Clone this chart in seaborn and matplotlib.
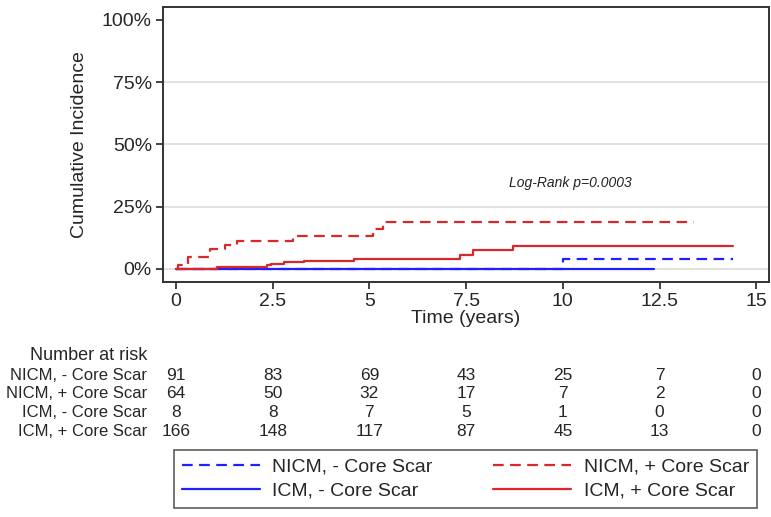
import pandas as pd
import matplotlib.pyplot as plt
import matplotlib.transforms as mtransforms
import seaborn as sns

# Cumulative incidence step curves (years, %)
nicm_neg_t = [0, 10.0, 14.4]
nicm_neg_ci = [0, 3.9, 3.9]
nicm_pos_t = [0, 0.05, 0.3, 0.88, 1.27, 1.58, 3.03, 5.1, 5.35, 13.4]
nicm_pos_ci = [0, 1.6, 4.7, 7.9, 9.6, 11.4, 13.3, 16.0, 19.0, 19.0]
icm_neg_t = [0, 12.35]
icm_neg_ci = [0, 0]
icm_pos_t = [0, 1.05, 2.35, 2.45, 2.8, 3.3, 4.6, 7.35, 7.68, 8.7, 14.4]
icm_pos_ci = [0, 0.8, 1.7, 2.1, 2.7, 3.2, 4.1, 5.5, 7.7, 9.3, 9.3]

groups = ['NICM, - Core Scar', 'NICM, + Core Scar', 'ICM, - Core Scar', 'ICM, + Core Scar']
risk_times = [0, 2.5, 5, 7.5, 10, 12.5, 15]
risk_nicm_neg = [91, 83, 69, 43, 25, 7, 0]
risk_nicm_pos = [64, 50, 32, 17, 7, 2, 0]
risk_icm_neg = [8, 8, 7, 5, 1, 0, 0]
risk_icm_pos = [166, 148, 117, 87, 45, 13, 0]

y_ticks = [0, 25, 50, 75, 100]
y_labels = ['0%', '25%', '50%', '75%', '100%']
x_ticks = [0, 2.5, 5, 7.5, 10, 12.5, 15]
x_labels = ['0', '2.5', '5', '7.5', '10', '12.5', '15']

sns.set_style('white')
plt.rcParams['font.family'] = ['Liberation Sans', 'DejaVu Sans']

blue = '#2020ff'
red = '#d8282c'
dash = (4.8, 2.9)

fig = plt.figure(figsize=(7.71, 5.17), dpi=100)
ax = fig.add_axes([163 / 771, 1 - 281.7 / 517, 606 / 771, 274.7 / 517])

for y in [0, 25, 50, 75]:
    ax.axhline(y, color='#dddddd', lw=1.2, zorder=0)

series = [
    (nicm_neg_t, nicm_neg_ci, blue, True, groups[0]),
    (icm_neg_t, icm_neg_ci, blue, False, groups[2]),
    (nicm_pos_t, nicm_pos_ci, red, True, groups[1]),
    (icm_pos_t, icm_pos_ci, red, False, groups[3]),
]
handles = {}
for t, ci, col, dashed, name in series:
    df = pd.DataFrame({'time': t, 'ci': ci})
    sns.lineplot(data=df, x='time', y='ci', ax=ax, color=col, lw=1.6,
                 drawstyle='steps-post', estimator=None, sort=False,
                 errorbar=None)
    line = ax.get_lines()[-1]
    if dashed:
        line.set_dashes(dash)
    handles[name] = line

ax.set_xlim(-0.336, 15.33)
ax.set_ylim(-5.1, 105.1)
ax.set_yticks(y_ticks)
ax.set_yticklabels(y_labels)
ax.set_xticks(x_ticks)
ax.set_xticklabels(x_labels)
ax.tick_params(axis='both', direction='out', length=5, width=1.2, color='#222222',
               labelsize=14, pad=3, bottom=True, left=True)
for s in ax.spines.values():
    s.set_color('#333333')
    s.set_linewidth(1.4)
ax.set_ylabel('Cumulative Incidence', fontsize=14, labelpad=10)
ax.set_xlabel('Time (years)', fontsize=14, labelpad=0)

ax.text(10.2, 34.6, 'Log-Rank p=0.0003', style='italic', fontsize=10,
        ha='center', va='center', color='#222222')

# Number at risk table
trans = mtransforms.blended_transform_factory(ax.transData, fig.transFigure)
fig.text(147 / 771, 1 - 355 / 517, 'Number at risk', ha='right', va='center', fontsize=13)
rows = [risk_nicm_neg, risk_nicm_pos, risk_icm_neg, risk_icm_pos]
row_y = [376, 394, 412.5, 432]
for name, vals, y in zip(groups, rows, row_y):
    fig.text(147 / 771, 1 - y / 517, name, ha='right', va='center', fontsize=12)
    for t, v in zip(risk_times, vals):
        ax.text(t, 1 - y / 517, str(v), transform=trans, ha='center', va='center',
                fontsize=12.5, clip_on=False)

order = [groups[0], groups[2], groups[1], groups[3]]
leg = fig.legend([handles[g] for g in order], order, ncol=2, loc='upper left',
                 bbox_to_anchor=(174 / 771, 2 / 517, 583 / 771, 65 / 517),
                 mode='expand', fontsize=14, handlelength=4.0, handletextpad=0.65,
                 borderpad=0.4, labelspacing=0.35, frameon=True, fancybox=False,
                 borderaxespad=0)
leg.get_frame().set_edgecolor('#333333')
leg.get_frame().set_linewidth(1.2)

fig.savefig('out.png', dpi=100)
